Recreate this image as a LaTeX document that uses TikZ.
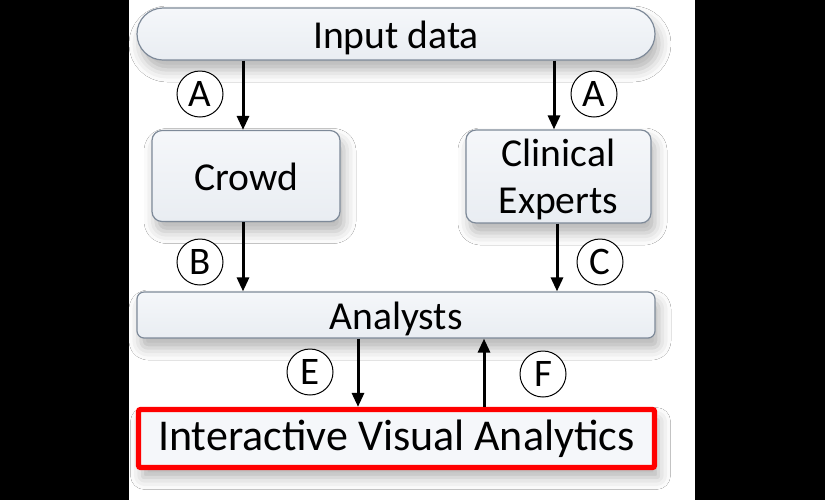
\documentclass[tikz,border=0pt]{standalone}
\usepackage{fontspec}
\setmainfont{Carlito}
\usetikzlibrary{shadows.blur,arrows.meta,calc}
\definecolor{boxtop}{HTML}{F5F7FA}
\definecolor{boxbot}{HTML}{E9EDF2}
\definecolor{boxline}{HTML}{7E8A99}
\begin{document}
\begin{tikzpicture}[x=0.5pt,y=-0.5pt,
  box/.style={draw=boxline, line width=0.6pt, top color=boxtop, bottom color=boxbot,
    blur shadow={shadow xshift=2pt, shadow yshift=-5pt, shadow blur radius=6pt, shadow opacity=30},
    font=\fontsize{19.8}{23.5}\selectfont, align=center, inner sep=0pt},
  lowtext/.style={text height=16pt, text depth=2pt},
  lbl/.style={circle, draw=black, line width=0.5pt, fill=white, minimum size=23pt, inner sep=0pt,
    font=\fontsize{19.5}{20}\selectfont},
  arr/.style={line width=1.5pt, -{Triangle[length=7pt,width=6pt]}}]
\fill[black] (0,0) rectangle (825,500);
\fill[white] (129,0) rectangle (695,500);
\useasboundingbox (0,0) rectangle (825,500);

\node[box, lowtext, minimum width=259pt, minimum height=26pt, rounded corners=13pt] (input) at (396,34) {Input data};
\node[box, lowtext, minimum width=94pt, minimum height=45.5pt, rounded corners=5pt] (crowd) at (246,176) {Crowd};
\node[box, text height=40.5pt, minimum width=92.5pt, minimum height=46.5pt, rounded corners=5pt] (clin) at (558.5,176.5) {Clinical\\Experts};
\node[box, lowtext, minimum width=259pt, minimum height=23pt, rounded corners=3.5pt] (analysts) at (396,315) {Analysts};
\node[draw=red, line width=2.6pt, fill=boxtop, rounded corners=1pt,
  blur shadow={shadow xshift=2pt, shadow yshift=-5pt, shadow blur radius=6pt, shadow opacity=30},
  minimum width=258pt, minimum height=29pt, inner sep=0pt, font=\fontsize{22}{24}\selectfont]
  (iva) at (396.5,438.5) {Interactive Visual Analytics};

\coordinate (xa1) at (243,0);
\coordinate (xa2) at (554,0);
\coordinate (xc) at (557,0);
\coordinate (xe) at (358,0);
\coordinate (xf) at (484,0);

\draw[arr] (input.south -| xa1) -- (crowd.north -| xa1);
\draw[arr] (input.south -| xa2) -- (clin.north -| xa2);
\draw[arr] (crowd.south -| xa1) -- (analysts.north -| xa1);
\draw[arr] (clin.south -| xc) -- (analysts.north -| xc);
\draw[arr] (analysts.south -| xe) -- (iva.north -| xe);
\draw[arr] (iva.north -| xf) -- (analysts.south -| xf);

\node[lbl] (la1) at (200,94) {A};
\node[lbl] (la2) at (594,94) {A};
\node[lbl] (lb) at (200,262) {B};
\node[lbl] (lc) at (600,262) {C};
\node[lbl] (le) at (310,372) {E};
\node[lbl] (lf) at (543,374) {F};
\end{tikzpicture}
\end{document}
